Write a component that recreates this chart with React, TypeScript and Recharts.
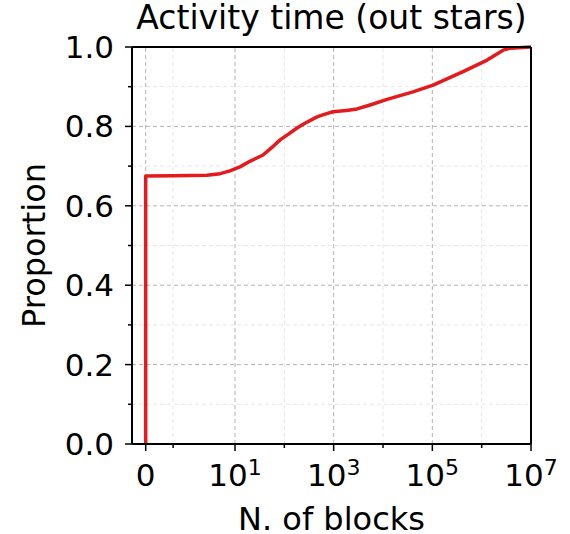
import React from 'react';
import { LineChart, Line, XAxis, YAxis, ReferenceLine } from 'recharts';

// ---- data ----
const blocks = [0, 0, 1, 2.7, 5, 7.9, 12.6, 20, 37, 56, 82, 119, 181, 262, 460, 668, 971, 1800, 2980, 5460, 12100, 40600, 103500, 420000, 1290000, 2720000, 3770000, 10000000];
const proportion = [0, 0.675, 0.676, 0.677, 0.681, 0.688, 0.698, 0.712, 0.728, 0.747, 0.766, 0.780, 0.796, 0.808, 0.824, 0.831, 0.837, 0.840, 0.844, 0.854, 0.868, 0.887, 0.904, 0.938, 0.967, 0.992, 0.997, 1.0];

const xMajorTicks = [0, 10, 1000, 100000, 10000000];
const xMinorTicks = [1, 100, 10000, 1000000];
const xLimits = [-0.5, 10000000];
const yMajorTicks = [0, 0.2, 0.4, 0.6, 0.8, 1.0];
const yMinorTicks = [0.1, 0.3, 0.5, 0.7, 0.9];

const title = 'Activity time (out stars)';
const xLabel = 'N. of blocks';
const yLabel = 'Proportion';

// symmetric-log transform (linthresh 2, linscale 1, base 10)
const LIN = 2;
const LSA = 1 / (1 - 0.1);
const symlog = (v: number) => {
  const a = Math.abs(v);
  const s = v < 0 ? -1 : 1;
  return a <= LIN ? (s * a / LIN) * LSA : s * (LSA + Math.log10(a / LIN));
};

const data = blocks.map((b, i) => ({ u: symlog(b), p: proportion[i] }));
const xTicksAll = [...xMajorTicks, ...xMinorTicks].map(symlog).sort((a, b) => a - b);
const yTicksAll = [...yMajorTicks, ...yMinorTicks].sort((a, b) => a - b);

const FONT = 'DejaVu Sans, Verdana, sans-serif';
const TICK = 7;
const RED = '#e41a1c';

const isMajorX = (u: number) => xMajorTicks.some((v) => Math.abs(symlog(v) - u) < 1e-6);
const isMajorY = (v: number) => yMajorTicks.some((m) => Math.abs(m - v) < 1e-6);

const XTick = (props: any) => {
  const { x, y, payload } = props;
  const axisY = y - TICK;
  const u = payload.value;
  const major = isMajorX(u);
  const raw = xMajorTicks.find((v) => Math.abs(symlog(v) - u) < 1e-6);
  let label: React.ReactNode = null;
  if (major && raw !== undefined) {
    if (raw === 0) {
      label = (
        <text x={x} y={axisY + 42} textAnchor="middle" fontSize={31} fontFamily={FONT} fill="#000">0</text>
      );
    } else {
      const e = Math.round(Math.log10(raw));
      label = (
        <text x={x} y={axisY + 42} textAnchor="middle" fontSize={31} fontFamily={FONT} fill="#000">
          <tspan>10</tspan>
          <tspan dy={-11} fontSize={22}>{e}</tspan>
        </text>
      );
    }
  }
  return (
    <g>
      <line x1={x} x2={x} y1={axisY} y2={axisY + (major ? 7 : 4)} stroke="#000" strokeWidth={1.5} />
      {label}
    </g>
  );
};

const YTick = (props: any) => {
  const { x, y, payload } = props;
  const axisX = x + TICK;
  const v = payload.value;
  const major = isMajorY(v);
  return (
    <g>
      <line x1={axisX} x2={axisX - (major ? 7 : 4)} y1={y} y2={y} stroke="#000" strokeWidth={1.5} />
      {major && (
        <text x={axisX - 18} y={y + 11} textAnchor="end" fontSize={31} fontFamily={FONT} fill="#000">
          {v.toFixed(1)}
        </text>
      )}
    </g>
  );
};

const XLabelContent = (props: any) => {
  const { viewBox } = props;
  return (
    <text x={viewBox.x + viewBox.width / 2} y={viewBox.y + 86} textAnchor="middle" fontSize={32} fontFamily={FONT} fill="#000">
      {xLabel}
    </text>
  );
};

const YLabelContent = () => {
  const cy = 245.5;
  const bx = 45;
  return (
    <text x={bx} y={cy} transform={`rotate(-90 ${bx} ${cy})`} textAnchor="middle" fontSize={32} fontFamily={FONT} fill="#000">
      {yLabel}
    </text>
  );
};

function XLabelContentWrapper(props: any) {
  return <XLabelContent {...props} />;
}
function YLabelContentWrapper() {
  return <YLabelContent />;
}

export default function App() {
  const uMin = symlog(xLimits[0]);
  const uMax = symlog(xLimits[1]);
  const majorGrid = { stroke: '#b3b3b3', strokeDasharray: '4 3', strokeWidth: 1 };
  const minorGrid = { stroke: '#e6e6e6', strokeDasharray: '4 3', strokeWidth: 1 };
  return (
    <div style={{ position: 'absolute', left: 0, top: 0, width: 570, height: 534, background: '#fff' }}>
      <LineChart width={570} height={534} data={data} margin={{ top: 47, right: 39, bottom: 0, left: 0 }}>
        <XAxis
          dataKey="u"
          type="number"
          domain={[uMin, uMax]}
          allowDataOverflow
          ticks={xTicksAll}
          interval={0}
          tickSize={TICK}
          tickMargin={0}
          tickLine={false}
          tick={(p: any) => <XTick {...p} />}
          height={90}
          axisLine={{ stroke: '#000', strokeWidth: 2 }}
          label={<XLabelContentWrapper />}
        />
        <YAxis
          type="number"
          domain={[0, 1]}
          ticks={yTicksAll}
          interval={0}
          tickSize={TICK}
          tickMargin={0}
          tickLine={false}
          tick={(p: any) => <YTick {...p} />}
          width={132}
          axisLine={{ stroke: '#000', strokeWidth: 2 }}
          label={<YLabelContentWrapper />}
        />
        {xMinorTicks.map((v) => (
          <ReferenceLine key={'xm' + v} x={symlog(v)} {...minorGrid} />
        ))}
        {yMinorTicks.map((v) => (
          <ReferenceLine key={'ym' + v} y={v} {...minorGrid} />
        ))}
        {xMajorTicks.slice(0, -1).map((v) => (
          <ReferenceLine key={'xM' + v} x={symlog(v)} {...majorGrid} />
        ))}
        {yMajorTicks.slice(1, -1).map((v) => (
          <ReferenceLine key={'yM' + v} y={v} {...majorGrid} />
        ))}
        <Line
          type="linear"
          dataKey="p"
          stroke={RED}
          strokeWidth={3.5}
          strokeLinejoin="round"
          dot={false}
          activeDot={false}
          isAnimationActive={false}
        />
        <ReferenceLine y={1} stroke="#000" strokeWidth={2} />
        <ReferenceLine x={uMax} stroke="#000" strokeWidth={2} />
      </LineChart>
      <svg width={570} height={534} style={{ position: 'absolute', left: 0, top: 0, pointerEvents: 'none' }}>
        <text x={331.5} y={29} textAnchor="middle" fontSize={33} fontFamily={FONT} fill="#000">
          {title}
        </text>
      </svg>
    </div>
  );
}
